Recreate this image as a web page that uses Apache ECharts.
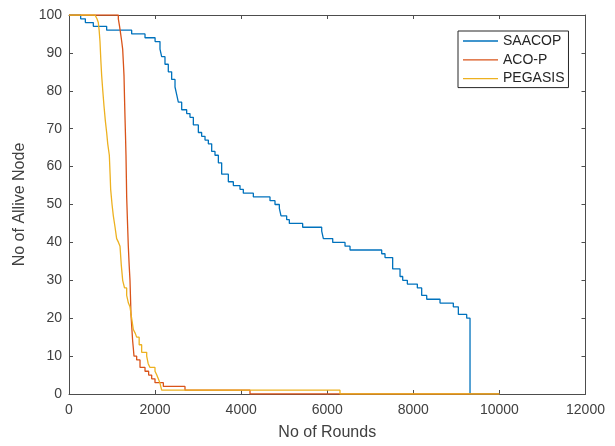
<!DOCTYPE html>
<html>
<head>
<meta charset="utf-8">
<script src="https://cdn.jsdelivr.net/npm/echarts@6/dist/echarts.min.js"></script>
<style>
  html, body { margin: 0; padding: 0; background: #fff; }
  #chart { width: 615px; height: 446px; }
</style>
</head>
<body>
<div id="chart"></div>
<script>
/* ---------------- DATA ---------------- */

const X_TICKS = [0, 2000, 4000, 6000, 8000, 10000, 12000];
const Y_TICKS = [0, 10, 20, 30, 40, 50, 60, 70, 80, 90, 100];

const SAACOP_ROUNDS = [
    0, 271, 380, 565, 875, 1456, 1766, 2000, 2114, 2153, 2230, 2307, 2385, 2463,
    2502, 2540, 2618, 2734, 2811, 2889, 3005, 3082, 3160, 3237, 3315, 3392, 3470,
    3547, 3702, 3818, 3973, 4050, 4128, 4283, 4670, 4786, 4887, 4926, 5057, 5119,
    5429, 5871, 5910, 6127, 6413, 6529, 7265, 7342, 7520, 7691, 7753, 7861, 8093,
    8194, 8311, 8620, 8929, 9046, 9240, 9317, 10000,
];
const SAACOP_NODES = [
    100, 99, 98, 97, 96, 95, 94, 93, 91, 89, 87, 85, 83, 81,
    79, 77, 75, 74, 73, 71, 69, 68, 67, 66, 64, 63, 61,
    58, 56, 55, 54, 53, 53, 52, 51, 50, 49, 47, 46, 45,
    44, 43, 41, 40, 39, 38, 37, 36, 33, 31, 30, 29, 28,
    26, 25, 24, 23, 21, 20, 0, 0,
];

const ACOP_ROUNDS = [
    0, 1069, 1146, 1175, 1200, 1225, 1247, 1265, 1278, 1290, 1301, 1313, 1324,
    1333, 1340, 1360, 1378, 1398, 1417, 1430, 1440, 1456, 1479, 1495, 1510, 1572,
    1650, 1766, 1850, 1921, 1998, 2192, 2695, 4205, 10000,
];
const ACOP_NODES = [
    100, 100, 99, 97, 95, 93, 91, 87, 84, 78, 73, 68, 63,
    57, 52, 45, 39, 34, 30, 25, 21, 18, 14, 12, 10, 9,
    7, 6, 5, 4, 3, 2, 1, 0, 0,
];

const PEGASIS_ROUNDS = [
    0, 604, 650, 681, 700, 720, 740, 759, 785, 813, 845, 875, 900, 937, 955, 968,
    1000, 1030, 1070, 1107, 1150, 1185, 1215, 1247, 1290, 1340, 1380, 1417, 1455,
    1495, 1540, 1572, 1630, 1688, 1805, 1840, 1882, 1998, 2040, 2075, 2110, 2153,
    6296, 10000,
];
const PEGASIS_NODES = [
    100, 100, 99, 98, 96, 93, 88, 84, 80, 76, 72, 69, 66, 63, 58, 54,
    50, 47, 44, 41, 40, 39, 34, 30, 28, 26, 24, 23, 20,
    17, 16, 15, 13, 11, 10, 8, 7, 6, 5, 4, 3, 1,
    0, 0,
];

const SERIES = [
    { name: "SAACOP", rounds: SAACOP_ROUNDS, nodes: SAACOP_NODES, color: "#0072BD" },
    { name: "ACO-P", rounds: ACOP_ROUNDS, nodes: ACOP_NODES, color: "#D95319" },
    { name: "PEGASIS", rounds: PEGASIS_ROUNDS, nodes: PEGASIS_NODES, color: "#EDB120" },
];

/* ---------------- CHART ---------------- */

const FONT = "'Liberation Sans', Arial, Helvetica, sans-serif";
const AXIS_COLOR = "#4d4d4d";
const TEXT_COLOR = "#404040";
// thin horizontal bar used as legend icon (plain line, no marker)
const LINE_ICON = "path://M0,0L35,0L35,1.3L0,1.3Z";

const chart = echarts.init(document.getElementById("chart"), null, { renderer: "canvas" });

const boxAxis = (extra) => Object.assign({
    type: "value",
    axisLine: { show: true, onZero: false, lineStyle: { color: AXIS_COLOR, width: 1 } },
    axisTick: { show: true, inside: true, length: 4, lineStyle: { color: AXIS_COLOR } },
    splitLine: { show: false },
}, extra);

const option = {
    animation: false,
    backgroundColor: "#fff",
    textStyle: { fontFamily: FONT },
    grid: { left: 69, right: 29.5, top: 15, bottom: 48, containLabel: false },
    legend: {
        orient: "vertical",
        left: 458,
        top: 31,
        padding: [3, 4, 2, 5],
        itemWidth: 35,
        itemHeight: 14,
        itemGap: 4.8,
        borderColor: "#262626",
        borderWidth: 1,
        borderRadius: 0,
        backgroundColor: "#fff",
        textStyle: { fontFamily: FONT, fontSize: 14, color: "#262626" },
        data: SERIES.map((s) => ({ name: s.name, icon: LINE_ICON })),
    },
    xAxis: [
        boxAxis({
            min: X_TICKS[0],
            max: X_TICKS[X_TICKS.length - 1],
            interval: 2000,
            name: "No of Rounds",
            nameLocation: "middle",
            nameGap: 31,
            nameTextStyle: { fontSize: 16, color: TEXT_COLOR, fontFamily: FONT },
            axisLabel: {
                fontSize: 14, color: TEXT_COLOR, margin: 9, fontFamily: FONT,
                formatter: (v) => String(v),
            },
        }),
        boxAxis({
            position: "top",
            min: X_TICKS[0],
            max: X_TICKS[X_TICKS.length - 1],
            interval: 2000,
            axisLabel: { show: false },
        }),
    ],
    yAxis: [
        boxAxis({
            min: Y_TICKS[0],
            max: Y_TICKS[Y_TICKS.length - 1],
            interval: 10,
            name: "No of Allive Node",
            nameLocation: "middle",
            nameGap: 41,
            nameTextStyle: { fontSize: 16, color: TEXT_COLOR, fontFamily: FONT },
            axisLabel: {
                fontSize: 14, color: TEXT_COLOR, margin: 7, fontFamily: FONT,
                formatter: (v) => String(v),
            },
        }),
        boxAxis({
            position: "right",
            min: Y_TICKS[0],
            max: Y_TICKS[Y_TICKS.length - 1],
            interval: 10,
            axisLabel: { show: false },
        }),
    ],
    series: SERIES.map((s) => ({
        name: s.name,
        type: "line",
        step: "end",
        symbol: "none",
        showSymbol: false,
        data: s.rounds.map((r, i) => [r, s.nodes[i]]),
        lineStyle: { color: s.color, width: 1.3 },
        itemStyle: { color: s.color },
    })),
};

chart.setOption(option);
</script>
</body>
</html>
